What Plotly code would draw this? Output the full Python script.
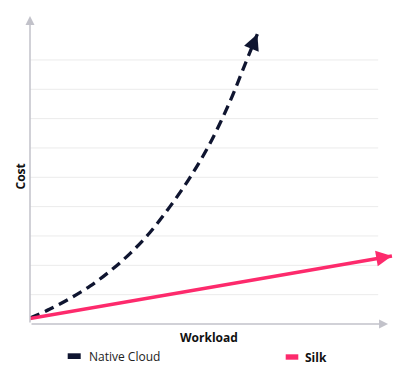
import plotly.graph_objects as go

# ---- data ----
native_x = [0, 0.67, 1.34, 2.01, 2.68, 3.35, 4.02, 4.69, 5.36, 6.03, 6.70, 7.21, 7.62]
native_y = [0.20, 0.51, 0.87, 1.29, 1.80, 2.40, 3.12, 4.00, 4.99, 6.15, 7.58, 8.86, 9.88]
silk_x = [0, 12.13]
silk_y = [0.19, 2.32]
grid_vals = [1, 2, 3, 4, 5, 6, 7, 8, 9]
series_names = ["Native Cloud", "Silk"]
axis_titles = ["Workload", "Cost"]

NAVY = "#0f1530"
PINK = "#fd2a6c"
AXIS = "#c2c2ca"
GRID = "#ebebeb"
FONT = "Open Sans"

W, H = 418, 380
L, R, T, B = 30, 21, 13, 56
XR = [0, 12.3]
YR = [0, 10.6]
pw = W - L - R
ph = H - T - B

def px(xp):
    return (xp - L) / pw

def py(yp):
    return (H - B - yp) / ph

fig = go.Figure()

fig.add_trace(go.Scatter(
    x=native_x, y=native_y, mode="lines", name=series_names[0],
    line=dict(color=NAVY, width=3.3, dash="10px,6px", shape="spline"),
    hoverinfo="skip", showlegend=False))
fig.add_trace(go.Scatter(
    x=silk_x, y=silk_y, mode="lines", name=series_names[1],
    line=dict(color=PINK, width=3.5),
    hoverinfo="skip", showlegend=False))

shapes = []
for g in grid_vals:
    shapes.append(dict(type="line", xref="x", yref="y", x0=0, x1=11.67, y0=g, y1=g,
                       line=dict(color=GRID, width=1), layer="below"))

annotations = []

def arrow_head(xs, ys, color, width, size, frac=0.25):
    x1, y1 = xs[-1], ys[-1]
    x0, y0 = xs[-2], ys[-2]
    return dict(x=x1, y=y1, ax=x1 - frac * (x1 - x0), ay=y1 - frac * (y1 - y0),
                xref="x", yref="y", axref="x", ayref="y", text="", showarrow=True,
                arrowhead=2, arrowwidth=width, arrowsize=size, arrowcolor=color,
                standoff=0, startstandoff=0)

# axis lines with arrow heads
annotations.append(dict(x=0, y=10.5, ax=0, ay=0, xref="x", yref="y", axref="x", ayref="y",
                        text="", showarrow=True, arrowhead=2, arrowwidth=1.5, arrowsize=1.2,
                        arrowcolor=AXIS))
annotations.append(dict(x=12.0, y=0, ax=0, ay=0, xref="x", yref="y", axref="x", ayref="y",
                        text="", showarrow=True, arrowhead=2, arrowwidth=1.5, arrowsize=1.2,
                        arrowcolor=AXIS))

# series arrow heads
annotations.append(arrow_head(native_x, native_y, NAVY, 3, 1.05))
annotations.append(arrow_head(silk_x, silk_y, PINK, 3, 1.05, frac=0.02))

# axis titles
annotations.append(dict(x=px(209), y=py(337), xref="paper", yref="paper",
                        text="<b>" + axis_titles[0] + "</b>", showarrow=False,
                        font=dict(family=FONT, size=12, color="#111111"),
                        xanchor="center", yanchor="middle"))
annotations.append(dict(x=px(19.5), y=py(177), xref="paper", yref="paper",
                        text="<b>" + axis_titles[1] + "</b>", showarrow=False, textangle=-90,
                        font=dict(family=FONT, size=12, color="#111111"),
                        xanchor="center", yanchor="middle"))

# custom legend
shapes.append(dict(type="rect", xref="paper", yref="paper",
                   x0=px(67.7), x1=px(80.7), y0=py(359), y1=py(353.3),
                   fillcolor=NAVY, line=dict(width=0)))
shapes.append(dict(type="rect", xref="paper", yref="paper",
                   x0=px(285.7), x1=px(298.3), y0=py(359.7), y1=py(354.3),
                   fillcolor=PINK, line=dict(width=0)))
annotations.append(dict(x=px(86.5), y=py(356), xref="paper", yref="paper",
                        text=series_names[0], showarrow=False,
                        font=dict(family=FONT, size=12, color="#222222"),
                        xanchor="left", yanchor="middle"))
annotations.append(dict(x=px(302.5), y=py(357), xref="paper", yref="paper",
                        text="<b>" + series_names[1] + "</b>", showarrow=False,
                        font=dict(family=FONT, size=12, color="#111111"),
                        xanchor="left", yanchor="middle"))

fig.update_layout(
    width=W, height=H,
    margin=dict(l=L, r=R, t=T, b=B, pad=0),
    paper_bgcolor="white", plot_bgcolor="white",
    xaxis=dict(range=XR, visible=False, fixedrange=True),
    yaxis=dict(range=YR, visible=False, fixedrange=True),
    shapes=shapes, annotations=annotations,
    showlegend=False,
    font=dict(family=FONT),
)

fig.write_html("out.html", config={"displayModeBar": False})
